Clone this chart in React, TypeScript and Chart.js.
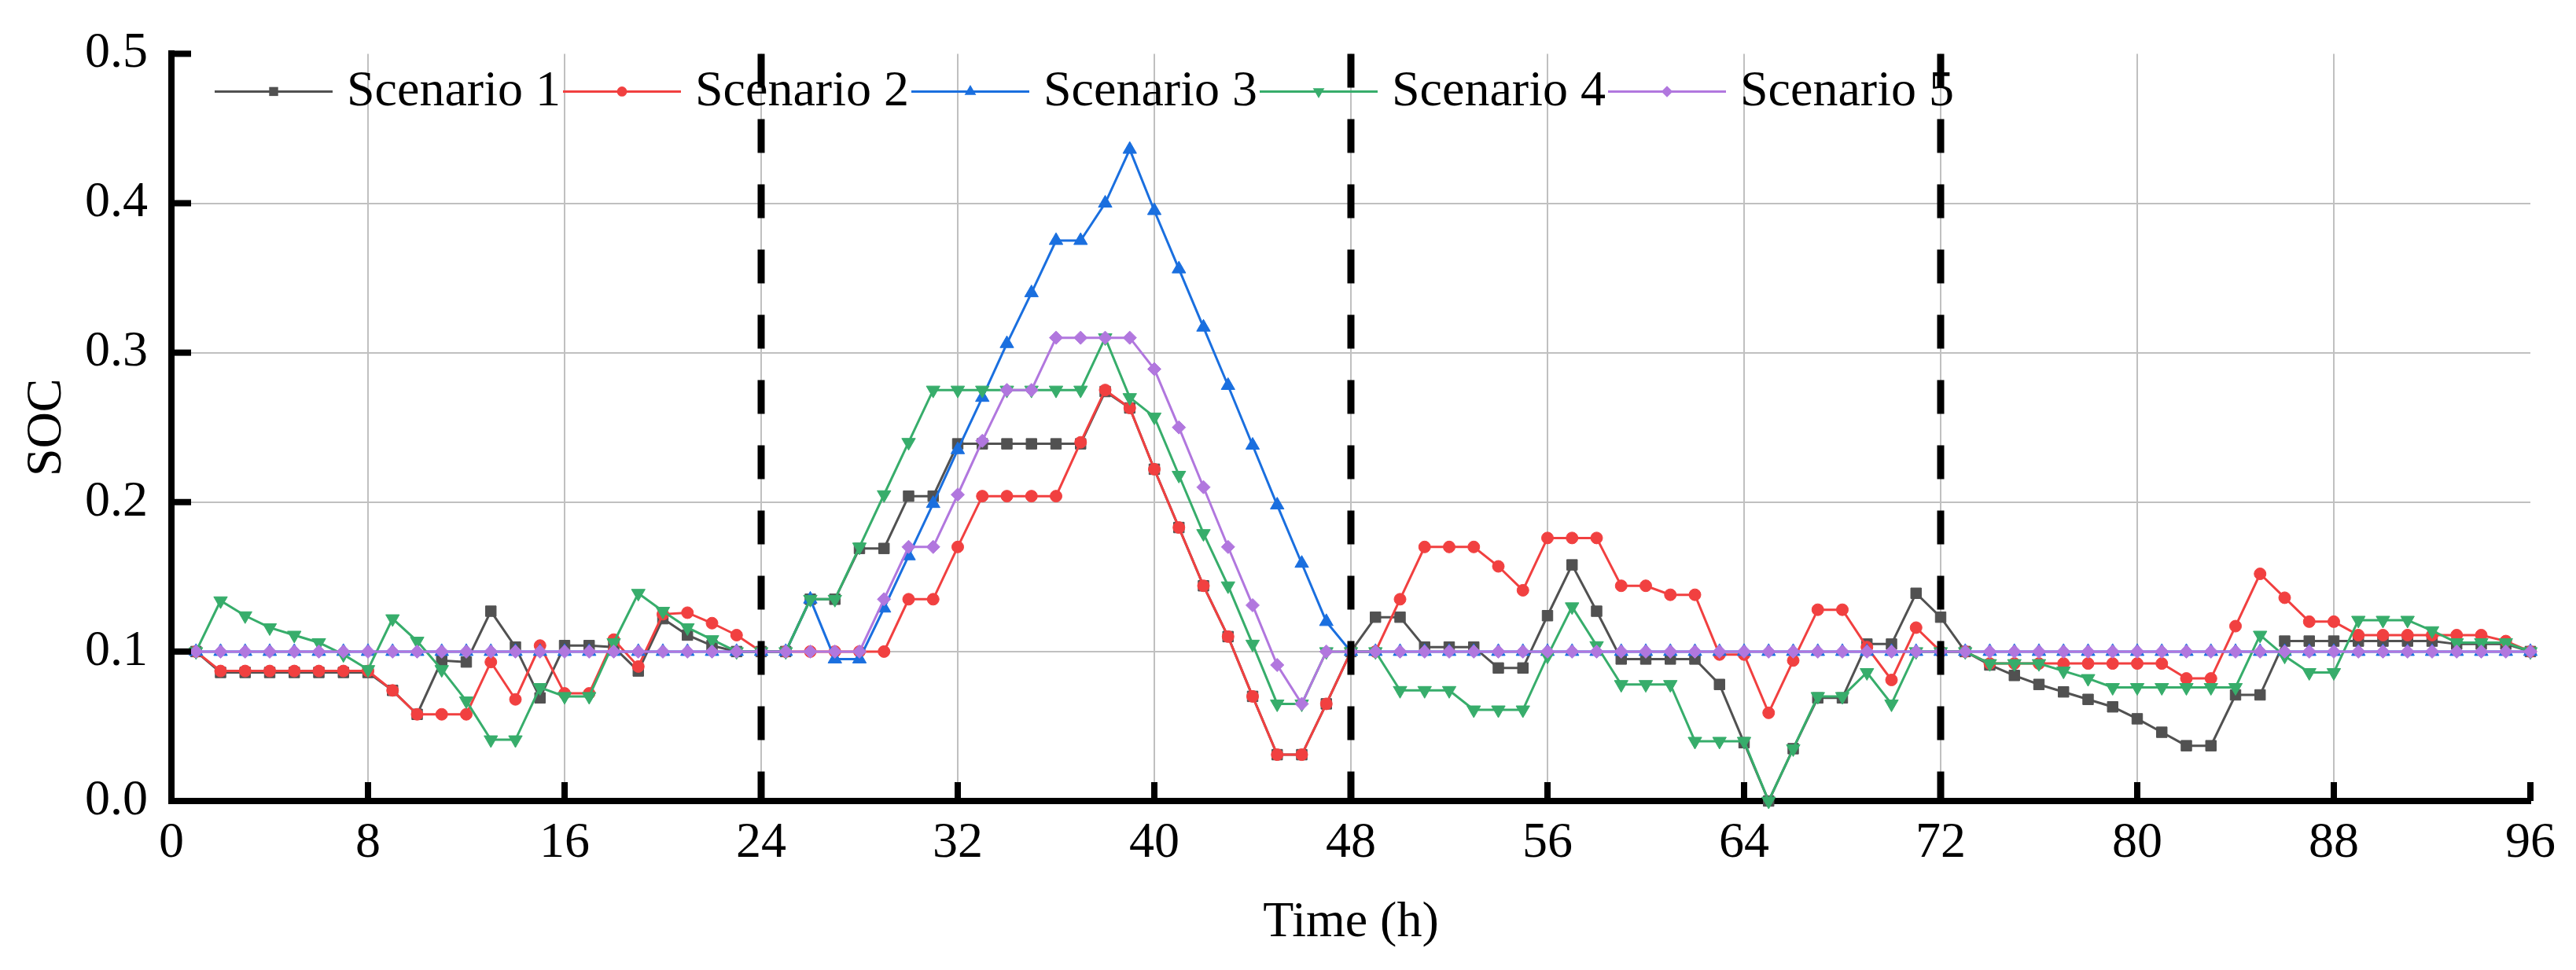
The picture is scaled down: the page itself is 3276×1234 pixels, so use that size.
import React, { useEffect, useRef } from 'react';
import { Chart, registerables } from 'chart.js';

Chart.register(...registerables);

// Time stamps (h)
const hours = [
  1, 2, 3, 4, 5, 6, 7, 8, 9, 10, 11, 12, 13, 14, 15, 16, 17, 18, 19, 20, 21, 22, 23, 24,
  25, 26, 27, 28, 29, 30, 31, 32, 33, 34, 35, 36, 37, 38, 39, 40, 41, 42, 43, 44, 45, 46, 47, 48,
  49, 50, 51, 52, 53, 54, 55, 56, 57, 58, 59, 60, 61, 62, 63, 64, 65, 66, 67, 68, 69, 70, 71, 72,
  73, 74, 75, 76, 77, 78, 79, 80, 81, 82, 83, 84, 85, 86, 87, 88, 89, 90, 91, 92, 93, 94, 95, 96,
];

const scenario1 = [
  0.1, 0.086, 0.086, 0.086, 0.086, 0.086, 0.086, 0.086, 0.074, 0.058, 0.094, 0.093,
  0.127, 0.103, 0.069, 0.104, 0.104, 0.103, 0.087, 0.122, 0.111, 0.104, 0.1, 0.1,
  0.1, 0.135, 0.135, 0.169, 0.169, 0.204, 0.204, 0.239, 0.239, 0.239, 0.239, 0.239,
  0.239, 0.274, 0.263, 0.222, 0.183, 0.144, 0.11, 0.07, 0.031, 0.031, 0.065, 0.1,
  0.123, 0.123, 0.103, 0.103, 0.103, 0.089, 0.089, 0.124, 0.158, 0.127, 0.095, 0.095,
  0.095, 0.095, 0.078, 0.039, 0.0, 0.035, 0.069, 0.069, 0.105, 0.105, 0.139, 0.123,
  0.1, 0.091, 0.084, 0.078, 0.073, 0.068, 0.063, 0.055, 0.046, 0.037, 0.037, 0.071,
  0.071, 0.107, 0.107, 0.107, 0.107, 0.107, 0.107, 0.107, 0.105, 0.105, 0.105, 0.1,
];

const scenario2 = [
  0.1, 0.087, 0.087, 0.087, 0.087, 0.087, 0.087, 0.087, 0.074, 0.058, 0.058, 0.058,
  0.093, 0.068, 0.104, 0.072, 0.072, 0.108, 0.09, 0.125, 0.126, 0.119, 0.111, 0.1,
  0.1, 0.1, 0.1, 0.1, 0.1, 0.135, 0.135, 0.17, 0.204, 0.204, 0.204, 0.204,
  0.24, 0.275, 0.263, 0.222, 0.183, 0.144, 0.11, 0.07, 0.031, 0.031, 0.065, 0.1,
  0.1, 0.135, 0.17, 0.17, 0.17, 0.157, 0.141, 0.176, 0.176, 0.176, 0.144, 0.144,
  0.138, 0.138, 0.098, 0.098, 0.059, 0.094, 0.128, 0.128, 0.103, 0.081, 0.116, 0.1,
  0.1, 0.092, 0.092, 0.092, 0.092, 0.092, 0.092, 0.092, 0.092, 0.082, 0.082, 0.117,
  0.152, 0.136, 0.12, 0.12, 0.111, 0.111, 0.111, 0.111, 0.111, 0.111, 0.107, 0.1,
];

const scenario3 = [
  0.1, 0.1, 0.1, 0.1, 0.1, 0.1, 0.1, 0.1, 0.1, 0.1, 0.1, 0.1,
  0.1, 0.1, 0.1, 0.1, 0.1, 0.1, 0.1, 0.1, 0.1, 0.1, 0.1, 0.1,
  0.1, 0.135, 0.095, 0.095, 0.129, 0.164, 0.199, 0.235, 0.27, 0.306, 0.34, 0.375,
  0.375, 0.4, 0.436, 0.395, 0.356, 0.317, 0.278, 0.238, 0.198, 0.159, 0.12, 0.1,
  0.1, 0.1, 0.1, 0.1, 0.1, 0.1, 0.1, 0.1, 0.1, 0.1, 0.1, 0.1,
  0.1, 0.1, 0.1, 0.1, 0.1, 0.1, 0.1, 0.1, 0.1, 0.1, 0.1, 0.1,
  0.1, 0.1, 0.1, 0.1, 0.1, 0.1, 0.1, 0.1, 0.1, 0.1, 0.1, 0.1,
  0.1, 0.1, 0.1, 0.1, 0.1, 0.1, 0.1, 0.1, 0.1, 0.1, 0.1, 0.1,
];

const scenario4 = [
  0.1, 0.134, 0.124, 0.116, 0.111, 0.106, 0.098, 0.088, 0.122, 0.107, 0.088, 0.067,
  0.041, 0.041, 0.076, 0.07, 0.07, 0.106, 0.139, 0.127, 0.116, 0.108, 0.1, 0.1,
  0.1, 0.135, 0.135, 0.17, 0.205, 0.24, 0.275, 0.275, 0.275, 0.275, 0.275, 0.275,
  0.275, 0.31, 0.27, 0.257, 0.218, 0.179, 0.144, 0.105, 0.065, 0.065, 0.1, 0.1,
  0.1, 0.074, 0.074, 0.074, 0.061, 0.061, 0.061, 0.097, 0.13, 0.104, 0.078, 0.078,
  0.078, 0.04, 0.04, 0.04, 0.0, 0.035, 0.07, 0.07, 0.086, 0.065, 0.1, 0.1,
  0.1, 0.092, 0.092, 0.092, 0.087, 0.082, 0.076, 0.076, 0.076, 0.076, 0.076, 0.076,
  0.111, 0.097, 0.086, 0.086, 0.121, 0.121, 0.121, 0.114, 0.106, 0.106, 0.106, 0.1,
];

const scenario5 = [
  0.1, 0.1, 0.1, 0.1, 0.1, 0.1, 0.1, 0.1, 0.1, 0.1, 0.1, 0.1,
  0.1, 0.1, 0.1, 0.1, 0.1, 0.1, 0.1, 0.1, 0.1, 0.1, 0.1, 0.1,
  0.1, 0.1, 0.1, 0.1, 0.135, 0.17, 0.17, 0.205, 0.241, 0.275, 0.275, 0.31,
  0.31, 0.31, 0.31, 0.289, 0.25, 0.21, 0.17, 0.131, 0.091, 0.065, 0.1, 0.1,
  0.1, 0.1, 0.1, 0.1, 0.1, 0.1, 0.1, 0.1, 0.1, 0.1, 0.1, 0.1,
  0.1, 0.1, 0.1, 0.1, 0.1, 0.1, 0.1, 0.1, 0.1, 0.1, 0.1, 0.1,
  0.1, 0.1, 0.1, 0.1, 0.1, 0.1, 0.1, 0.1, 0.1, 0.1, 0.1, 0.1,
  0.1, 0.1, 0.1, 0.1, 0.1, 0.1, 0.1, 0.1, 0.1, 0.1, 0.1, 0.1,
];

const seriesValues = [scenario1, scenario2, scenario3, scenario4, scenario5];
const seriesLabels = ['Scenario 1', 'Scenario 2', 'Scenario 3', 'Scenario 4', 'Scenario 5'];
const seriesColors = ['#515151', '#F14040', '#1A6FDF', '#37AD6B', '#B177DE'];
const seriesPointStyles = ['rect', 'circle', 'triangle', 'triangle', 'rectRot'];
const seriesPointRotations = [0, 0, 0, 180, 0];
const seriesPointRadii = [9.5, 7.5, 10, 10, 8.5];

const dayDividers = [24, 48, 72];
const xTitle = 'Time (h)';
const yTitle = 'SOC';

const FONT_FAMILY = "'Liberation Serif', 'Times New Roman', serif";
const FONT_SIZE = 64;

function drawMarker(ctx: CanvasRenderingContext2D, style: string, rot: number, r: number, cx: number, cy: number) {
  ctx.beginPath();
  if (style === 'rect') {
    const s = r * Math.SQRT1_2;
    ctx.rect(cx - s, cy - s, 2 * s, 2 * s);
  } else if (style === 'circle') {
    ctx.arc(cx, cy, r, 0, Math.PI * 2);
  } else if (style === 'triangle') {
    const sg = rot === 180 ? -1 : 1;
    ctx.moveTo(cx, cy - sg * r);
    ctx.lineTo(cx + r * 0.866, cy + sg * r * 0.5);
    ctx.lineTo(cx - r * 0.866, cy + sg * r * 0.5);
    ctx.closePath();
  } else {
    ctx.moveTo(cx, cy - r);
    ctx.lineTo(cx + r, cy);
    ctx.lineTo(cx, cy + r);
    ctx.lineTo(cx - r, cy);
    ctx.closePath();
  }
  ctx.fill();
}

const overlayPlugin = {
  id: 'overlay',
  afterDatasetsDraw(chart: any) {
    const { ctx, chartArea, scales } = chart;
    const xs = scales.x;
    const ys = scales.y;
    ctx.save();
    // day divider dashed lines
    ctx.strokeStyle = '#000';
    ctx.lineWidth = 9;
    ctx.lineCap = 'butt';
    ctx.setLineDash([43, 40]);
    for (const h of dayDividers) {
      const px = xs.getPixelForValue(h);
      ctx.beginPath();
      ctx.moveTo(px, chartArea.top);
      ctx.lineTo(px, chartArea.bottom);
      ctx.stroke();
    }
    ctx.setLineDash([]);
    // inward tick marks
    ctx.lineWidth = 8;
    for (const t of xs.ticks) {
      if (Math.abs(t.value) < 1e-9) continue;
      const px = xs.getPixelForValue(t.value);
      ctx.beginPath();
      ctx.moveTo(px, chartArea.bottom);
      ctx.lineTo(px, chartArea.bottom - 24);
      ctx.stroke();
    }
    for (const t of ys.ticks) {
      if (Math.abs(t.value) < 1e-9) continue;
      const py = ys.getPixelForValue(t.value);
      ctx.beginPath();
      ctx.moveTo(chartArea.left, py);
      ctx.lineTo(chartArea.left + 25, py);
      ctx.stroke();
    }
    ctx.restore();
  },
  afterDraw(chart: any) {
    const { ctx, chartArea } = chart;
    ctx.save();
    const y = chartArea.top + 48;
    ctx.font = `${FONT_SIZE}px ${FONT_FAMILY}`;
    ctx.textBaseline = 'middle';
    ctx.textAlign = 'left';
    for (let i = 0; i < seriesLabels.length; i++) {
      const x0 = chartArea.left + 55 + 443 * i;
      ctx.strokeStyle = seriesColors[i];
      ctx.fillStyle = seriesColors[i];
      ctx.lineWidth = 3;
      ctx.beginPath();
      ctx.moveTo(x0, y);
      ctx.lineTo(x0 + 150, y);
      ctx.stroke();
      drawMarker(ctx, seriesPointStyles[i], seriesPointRotations[i], seriesPointRadii[i] * 0.85, x0 + 75, y);
      ctx.fillStyle = '#000';
      ctx.fillText(seriesLabels[i], x0 + 168, y + 1);
    }
    ctx.restore();
  },
};

export default function App() {
  const canvasRef = useRef<HTMLCanvasElement | null>(null);

  useEffect(() => {
    const canvas = canvasRef.current;
    if (!canvas) return;
    const font = { family: FONT_FAMILY, size: FONT_SIZE };
    const chart = new Chart(canvas, {
      type: 'line',
      data: {
        datasets: seriesValues.map((vals, i) => ({
          label: seriesLabels[i],
          data: hours.map((h, j) => ({ x: h, y: vals[j] })),
          borderColor: seriesColors[i],
          backgroundColor: seriesColors[i],
          borderWidth: 3,
          pointStyle: seriesPointStyles[i] as any,
          pointRotation: seriesPointRotations[i],
          pointRadius: seriesPointRadii[i],
          pointBackgroundColor: seriesColors[i],
          pointBorderColor: seriesColors[i],
          pointBorderWidth: 1,
          tension: 0,
          fill: false,
          order: 5 - i,
          clip: false as any,
        })),
      },
      options: {
        animation: false,
        responsive: false,
        devicePixelRatio: 1,
        events: [],
        layout: { padding: { left: 0, top: 60, right: 58, bottom: 0 } },
        plugins: {
          legend: { display: false },
          tooltip: { enabled: false },
        },
        scales: {
          x: {
            type: 'linear',
            min: 0,
            max: 96,
            afterFit: (s: any) => { s.height = 215; },
            ticks: {
              stepSize: 8,
              autoSkip: false,
              maxRotation: 0,
              padding: 16,
              color: '#000',
              font,
            },
            grid: {
              drawTicks: false,
              lineWidth: 2,
              color: (c: any) => {
                const v = c.tick ? c.tick.value : -1;
                return v === 0 || v === 96 ? 'rgba(0,0,0,0)' : '#c0c0c0';
              },
            },
            border: { display: true, color: '#000', width: 8 },
            title: { display: true, text: xTitle, color: '#000', font, padding: { top: 0, bottom: 21 } },
          },
          y: {
            type: 'linear',
            min: 0,
            max: 0.5,
            afterFit: (s: any) => { s.width = 218; },
            ticks: {
              stepSize: 0.1,
              padding: 30,
              color: '#000',
              font,
              callback: (v: any) => Number(v).toFixed(1),
            },
            grid: {
              drawTicks: false,
              lineWidth: 2,
              color: (c: any) => {
                const v = c.tick ? c.tick.value : -1;
                return Math.abs(v) < 1e-9 || Math.abs(v - 0.5) < 1e-9 ? 'rgba(0,0,0,0)' : '#c0c0c0';
              },
            },
            border: { display: true, color: '#000', width: 8 },
            title: { display: true, text: yTitle, color: '#000', font, padding: { top: 22, bottom: 0 } },
          },
        },
      } as any,
      plugins: [overlayPlugin],
    });
    return () => chart.destroy();
  }, []);

  return (
    <div style={{ position: 'fixed', left: 0, top: 0, width: 3276, height: 1234, background: '#fff' }}>
      <canvas ref={canvasRef} width={3276} height={1234} style={{ width: 3276, height: 1234, display: 'block' }} />
    </div>
  );
}
